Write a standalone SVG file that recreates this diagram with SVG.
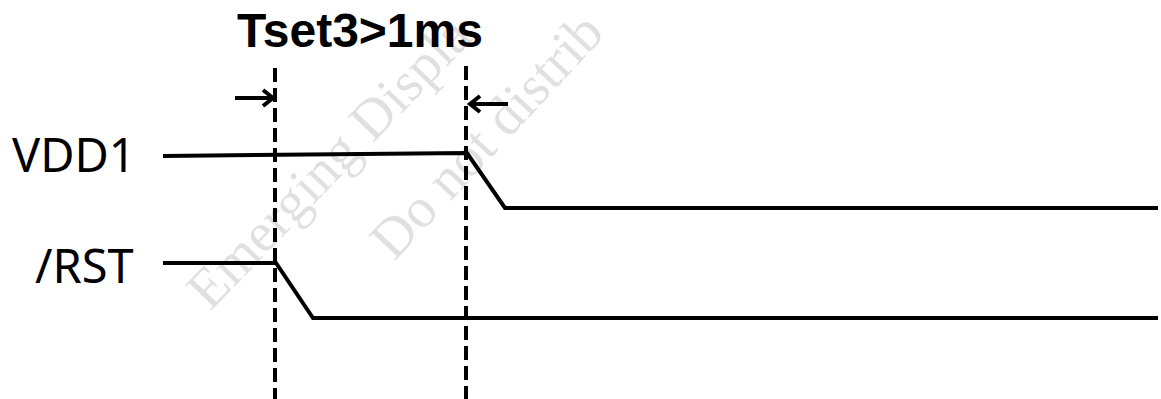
<svg xmlns="http://www.w3.org/2000/svg" width="1161" height="399" viewBox="0 0 1161 399">
<style>
.sig{fill:none;stroke:#000;stroke-width:4;stroke-linejoin:miter;stroke-linecap:butt}
.dash{fill:none;stroke:#000;stroke-width:4;stroke-dasharray:14 6}
.arr{fill:none;stroke:#000;stroke-width:4;stroke-linejoin:miter}
.lbl{font-family:"Noto Sans","Open Sans",sans-serif;font-size:47px;fill:#000}
.title{font-family:"Liberation Sans",Arial,sans-serif;font-weight:bold;font-size:48px;fill:#000}
.wm{font-family:"Liberation Serif","Times New Roman",serif;font-size:56px;fill:#000;fill-opacity:0.12}
</style>
<rect width="1161" height="399" fill="#fff"/>
<g id="watermark">
<text class="wm" transform="translate(210,312) rotate(-46)">Emerging Displa</text>
<text class="wm" transform="translate(394,262) rotate(-47)">Do not distrib</text>
</g>
<g id="title"><text class="title" x="237" y="47">Tset3&gt;1ms</text></g>
<g id="vdd1">
<text class="lbl" x="12" y="172">VDD1</text>
<path class="sig" d="M163,156 L467,153 L505,208 L1158,208"/>
</g>
<g id="rst">
<text class="lbl" x="35" y="283">/RST</text>
<path class="sig" d="M163,263 L276,263 L313,318 L1158,318"/>
</g>
<g id="connectors">
<line class="dash" x1="275" y1="68" x2="275" y2="399"/>
<line class="dash" x1="466" y1="66" x2="466" y2="399"/>
<path class="arr" d="M235,98 H273 M263,90 L273,98 L263,106"/>
<path class="arr" d="M508,104 H470 M480,96 L470,104 L480,112"/>
</g>
</svg>
